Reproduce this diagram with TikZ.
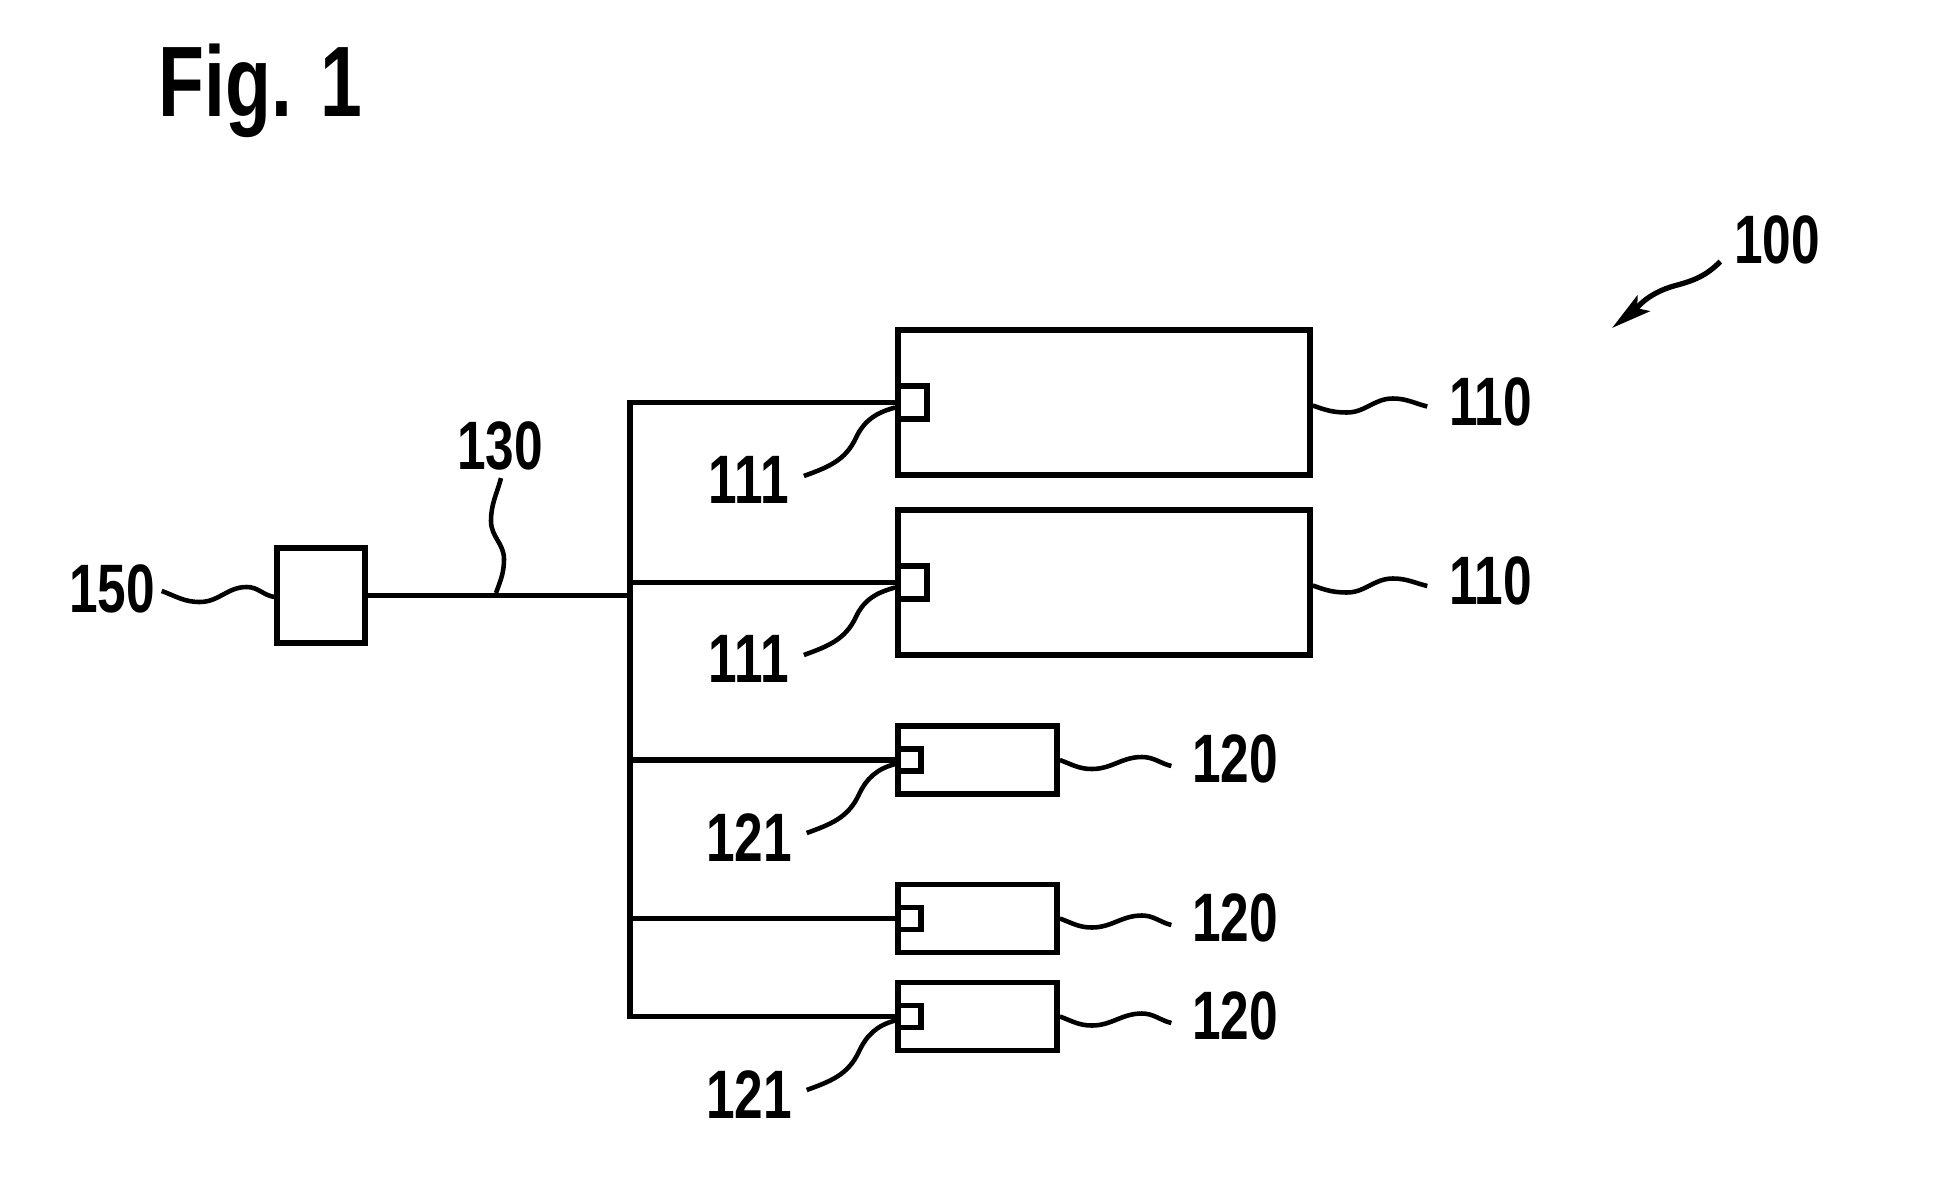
\documentclass[tikz,border=0pt]{standalone}
\usepackage{fontspec}
\newfontfamily\refsans{Liberation Sans}[FakeStretch=0.75]
\usetikzlibrary{arrows.meta}

\begin{document}
\begin{tikzpicture}[>={Stealth[length=4mm,width=2mm,inset=0.8mm]}, line width=1.6pt,
  unit/.style={draw,inner sep=0pt,minimum width=4.12cm,minimum height=1.45cm},
  sensor/.style={draw,inner sep=0pt,minimum width=1.59cm,minimum height=0.68cm},
  port/.style={draw,inner sep=0pt,anchor=west,minimum width=0.29cm,minimum height=0.33cm},
  sport/.style={draw,inner sep=0pt,anchor=west,minimum width=0.23cm,minimum height=0.22cm},
  refnum/.style={inner sep=0pt,font=\refsans\bfseries\fontsize{19.5}{20}\selectfont},
  leader/.style={line width=1.3pt}]
  \useasboundingbox (0,0) rectangle (19.58,11.77);
  % Title
  \node[inner sep=0pt,anchor=base west,font=\refsans\bfseries\fontsize{28.5}{30}\selectfont] (title) at (1.56,10.60) {Fig. 1};
  % Nodes
  \node[draw,inner sep=0pt,minimum width=0.88cm,minimum height=0.95cm] (ecu) at (3.21,5.815) {};
  \node[unit] (u1) at (11.04,7.745) {};
  \node[unit] (u2) at (11.04,5.945) {};
  \node[sensor] (s1) at (9.775,4.17) {};
  \node[sensor] (s2) at (9.775,2.585) {};
  \node[sensor] (s3) at (9.775,1.605) {};
  % Ports
  \node[port] (p1) at (u1.west) {};
  \node[port] (p2) at (u2.west) {};
  \node[sport] (q1) at (s1.west) {};
  \node[sport] (q2) at (s2.west) {};
  \node[sport] (q3) at (s3.west) {};
  % Bus
  \coordinate (bus) at (6.30,0);
  \draw (p1.west) -| (bus |- q3.west) -- (q3.west);
  \draw (p2.west) -- (p2.west -| bus);
  \draw (q1.west) -- (q1.west -| bus);
  \draw (q2.west) -- (q2.west -| bus);
  \draw (ecu.east) -- (ecu.east -| bus);
  % Reference numerals
  \node[refnum] (l100) at (17.77,9.37) {100};
  \node[refnum] (l110a) at (14.905,7.755) {110};
  \node[refnum] (l110b) at (14.905,5.96) {110};
  \node[refnum] (l120a) at (12.35,4.18) {120};
  \node[refnum] (l120b) at (12.35,2.59) {120};
  \node[refnum] (l120c) at (12.35,1.61) {120};
  \node[refnum] (l111a) at (7.49,6.97) {111};
  \node[refnum] (l111b) at (7.49,5.18) {111};
  \node[refnum] (l121a) at (7.49,3.39) {121};
  \node[refnum] (l121b) at (7.49,0.82) {121};
  \node[refnum] (l130) at (5.00,7.31) {130};
  \node[refnum] (l150) at (1.12,5.88) {150};
  \coordinate (c130) at (4.96,5.84);
  \coordinate (t100) at (16.12,8.49);
  % Leaders
  \draw[leader] ([yshift=-0.03cm]u1.east) to[out=-20,in=180] ++(0.34,-0.07) to[out=0,in=180] ++(0.46,0.14) to[out=0,in=166] ([shift={(-0.19,-0.05)}]l110a.west);
  \draw[leader] ([yshift=-0.03cm]u2.east) to[out=-20,in=180] ++(0.34,-0.07) to[out=0,in=180] ++(0.46,0.14) to[out=0,in=166] ([shift={(-0.19,-0.05)}]l110b.west);
  \draw[leader] (s1.east) to[out=-20,in=180] ++(0.32,-0.09) to[out=0,in=180] ++(0.50,0.12) to[out=0,in=166] ([shift={(-0.18,-0.07)}]l120a.west);
  \draw[leader] (s2.east) to[out=-20,in=180] ++(0.32,-0.09) to[out=0,in=180] ++(0.50,0.12) to[out=0,in=166] ([shift={(-0.18,-0.07)}]l120b.west);
  \draw[leader] (s3.east) to[out=-20,in=180] ++(0.32,-0.09) to[out=0,in=180] ++(0.50,0.12) to[out=0,in=166] ([shift={(-0.18,-0.07)}]l120c.west);
  \draw[leader] ([shift={(0.04,-0.02)}]l150.east) to[out=-20,in=180] ++(0.38,-0.11) to[out=0,in=180] ++(0.47,0.15) to[out=0,in=170] ([yshift=-0.015cm]ecu.west);
  \draw[leader] ([shift={(0.01,-0.05)}]l130.south) to[out=-105,in=90] ++(-0.10,-0.43) to[out=-90,in=90] ++(0.13,-0.38) to[out=-90,in=70] (c130);
  \draw[leader] ([shift={(0.12,0.04)}]l111a.east) to[out=20,in=245] ++(0.52,0.38) to[out=65,in=195] ([yshift=-0.05cm]p1.west);
  \draw[leader] ([shift={(0.12,0.04)}]l111b.east) to[out=20,in=245] ++(0.52,0.38) to[out=65,in=195] ([yshift=-0.05cm]p2.west);
  \draw[leader] ([shift={(0.12,0.05)}]l121a.east) to[out=20,in=245] ++(0.52,0.38) to[out=65,in=195] ([yshift=-0.04cm]q1.west);
  \draw[leader] ([shift={(0.12,0.05)}]l121b.east) to[out=20,in=245] ++(0.52,0.38) to[out=65,in=195] ([yshift=-0.04cm]q3.west);
  \draw[leader,line width=1.5pt,->] ([shift={(-0.11,0.055)}]l100.south west) to[out=-135,in=15] ++(-0.45,-0.24) to[out=195,in=38] (t100);
\end{tikzpicture}
\end{document}
